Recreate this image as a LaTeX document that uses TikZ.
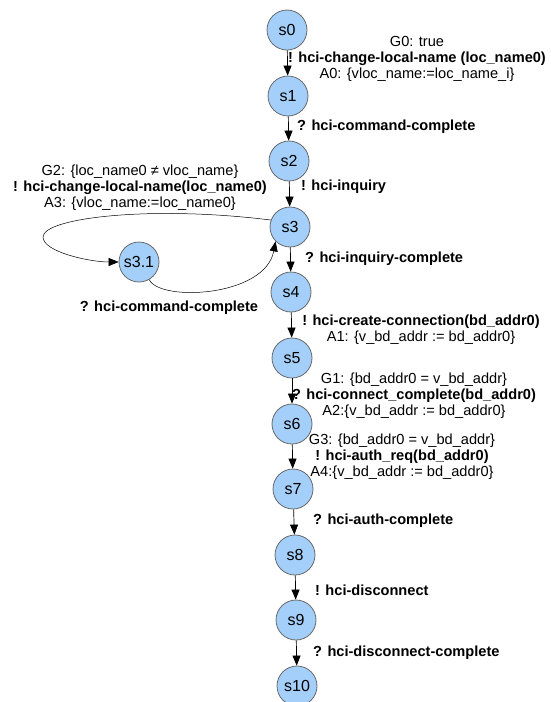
\documentclass[tikz,border=0pt]{standalone}
\usepackage{fontspec}
\setmainfont{Liberation Sans}
\usetikzlibrary{arrows.meta}
\definecolor{nodefill}{RGB}{163,207,250}
\definecolor{nodeline}{RGB}{105,105,105}
\tikzset{
  state/.style={circle, draw=nodeline, line width=0.8pt, fill=nodefill, minimum size=40pt, inner sep=0pt, font=\fontsize{16}{18}\selectfont},
  edge/.style={draw=black, line width=0.7pt, -{Triangle[length=10pt,width=8pt]}},
  lab/.style={font=\fontsize{14.6}{16.2}\selectfont, inner sep=0pt, align=center},
  labl/.style={font=\fontsize{14.6}{16.2}\selectfont\bfseries, inner sep=0pt, anchor=west}
}
\begin{document}
\begin{tikzpicture}[x=1pt,y=-1pt]
\useasboundingbox (0,0) rectangle (551,702);
\node[state] (s0) at (287,30) {s0};
\node[state] (s1) at (288,96) {s1};
\node[state] (s2) at (289,161) {s2};
\node[state] (s3) at (290,227) {s3};
\node[state] (s31) at (139,262) {s3.1};
\node[state] (s4) at (291,292) {s4};
\node[state] (s5) at (292,358) {s5};
\node[state] (s6) at (292,424) {s6};
\node[state] (s7) at (293,489) {s7};
\node[state] (s8) at (295,555) {s8};
\node[state] (s9) at (296,620) {s9};
\node[state] (s10) at (297,686) {s10};

\draw[edge] (s0) -- (s1);
\draw[edge] (s1) -- (s2);
\draw[edge] (s2) -- (s3);
\draw[edge] (s3) -- (s4);
\draw[edge] (s4) -- (s5);
\draw[edge] (s5) -- (s6);
\draw[edge] (s6) -- (s7);
\draw[edge] (s7) -- (s8);
\draw[edge] (s8) -- (s9);
\draw[edge] (s9) -- (s10);
\draw[edge, line width=0.5pt] (s3.160) .. controls (150,205) and (43,218) .. (43,237) .. controls (43,252) and (90,262) .. (s31.west);
\draw[edge, line width=0.5pt] (s31.-60) .. controls (160,302) and (265,297) .. (s3.225);

\node[lab] (l0) at (417,59) {G0: true\\\textbf{! hci-change-local-name (loc\_name0)}\\A0: \{vloc\_name:=loc\_name\_i\}};
\node[labl] (l1) at (297,127) {? hci-command-complete};
\node[labl] (l2) at (301,187) {! hci-inquiry};
\node[lab] (l3) at (140,188) {G2: \{loc\_name0 ≠ vloc\_name\}\\\textbf{! hci-change-local-name(loc\_name0)}\\A3: \{vloc\_name:=loc\_name0\}};
\node[labl] (l4) at (305,259) {? hci-inquiry-complete};
\node[lab, font=\fontsize{14.6}{16.2}\selectfont\bfseries] (l5) at (169,308) {? hci-command-complete};
\node[lab] (l6) at (421,329.5) {\textbf{! hci-create-connection(bd\_addr0)}\\A1: \{v\_bd\_addr := bd\_addr0\}};
\node[lab] (l7) at (414,396) {G1: \{bd\_addr0 = v\_bd\_addr\}\\\textbf{? hci-connect\_complete(bd\_addr0)}\\A2:\{v\_bd\_addr := bd\_addr0\}};
\node[lab] (l8) at (402,457) {G3: \{bd\_addr0 = v\_bd\_addr\}\\\textbf{! hci-auth\_req(bd\_addr0)}\\A4:\{v\_bd\_addr := bd\_addr0\}};
\node[labl] (l9) at (313,521) {? hci-auth-complete};
\node[labl] (l10) at (315,590) {! hci-disconnect};
\node[labl] (l11) at (313,653) {? hci-disconnect-complete};
\end{tikzpicture}
\end{document}
